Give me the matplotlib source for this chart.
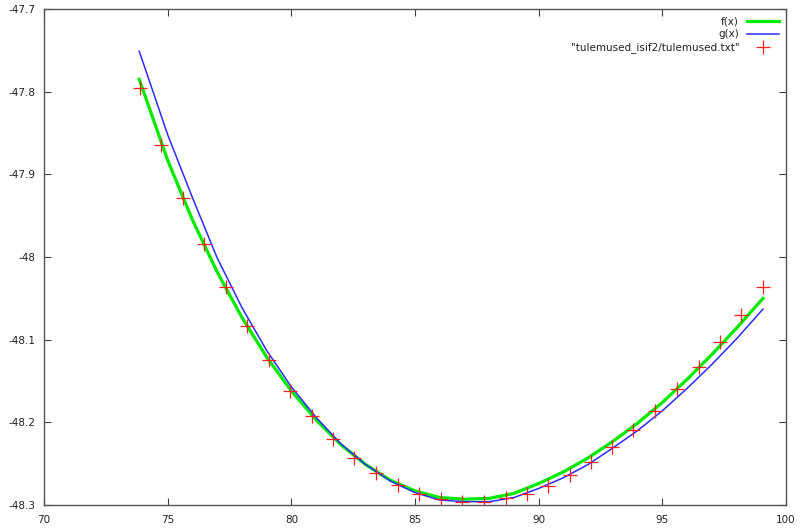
import matplotlib.pyplot as plt

# measured points (volume vs energy)
data_x = [73.88, 74.73, 75.62, 76.47, 77.36, 78.21, 79.10, 79.95, 80.84, 81.69,
          82.54, 83.43, 84.32, 85.16, 86.05, 86.90, 87.79, 88.68, 89.53, 90.38,
          91.27, 92.12, 92.97, 93.82, 94.71, 95.60, 96.49, 97.34, 98.19, 99.07]
data_y = [-47.796, -47.865, -47.929, -47.984, -48.036, -48.083, -48.125, -48.162, -48.192, -48.220,
          -48.243, -48.261, -48.276, -48.287, -48.293, -48.296, -48.296, -48.292, -48.287, -48.277,
          -48.264, -48.248, -48.230, -48.209, -48.186, -48.160, -48.133, -48.103, -48.070, -48.036]

# curves
curve_x = [73.85, 75, 76, 77, 78, 79, 80, 81, 82, 83, 84, 85, 86, 87,
           88, 89, 90, 91, 92, 93, 94, 95, 96, 97, 98, 99.07]
f_y = [-47.785, -47.883, -47.955, -48.018, -48.073, -48.121, -48.162, -48.197, -48.227, -48.251,
       -48.270, -48.283, -48.291, -48.293, -48.292, -48.286, -48.274, -48.260, -48.243, -48.223,
       -48.201, -48.176, -48.148, -48.118, -48.086, -48.050]
g_y = [-47.751, -47.852, -47.928, -48.001, -48.061, -48.113, -48.157, -48.194, -48.226, -48.251,
       -48.271, -48.285, -48.294, -48.296, -48.296, -48.291, -48.280, -48.267, -48.251, -48.231,
       -48.210, -48.186, -48.159, -48.130, -48.099, -48.063]

x_ticks = [70, 75, 80, 85, 90, 95, 100]
y_ticks = [-47.7, -47.8, -47.9, -48.0, -48.1, -48.2, -48.3]
y_labels = ["-47.7", "-47.8", "-47.9", "-48", "-48.1", "-48.2", "-48.3"]

fig = plt.figure(figsize=(8, 5.31), dpi=100)
ax = fig.add_axes([0.055, 0.049, 0.9275, 0.934])

ax.plot(curve_x, f_y, color="#00ea00", linewidth=2.3, label="f(x)")
ax.plot(curve_x, g_y, color="#2b2bff", linewidth=1.1, label="g(x)")
ax.plot(data_x, data_y, linestyle="none", marker="+", markersize=10,
        markeredgewidth=0.9, color="#ff2020", label='"tulemused_isif2/tulemused.txt"')

ax.set_xlim(70, 100)
ax.set_ylim(-48.3, -47.7)
ax.set_xticks(x_ticks)
ax.set_xticklabels([str(t) for t in x_ticks])
ax.set_yticks(y_ticks)
ax.set_yticklabels(y_labels)
ax.tick_params(direction="in", length=5, width=0.8, colors="#404040",
               labelsize=7.5, labelcolor="#222222", top=True, right=True)
ax.tick_params(axis="y", pad=6)
ax.tick_params(axis="x", pad=7)
for s in ax.spines.values():
    s.set_color("#555555")
    s.set_linewidth(1.0)

leg = ax.legend(loc="upper right", frameon=False, markerfirst=False, fontsize=7.5,
                handlelength=3.0, handletextpad=0.8, labelspacing=0.3,
                borderaxespad=0.3)
for t in leg.get_texts():
    t.set_ha("right")
    t.set_color("#222222")

fig.savefig("out.png", dpi=100)
